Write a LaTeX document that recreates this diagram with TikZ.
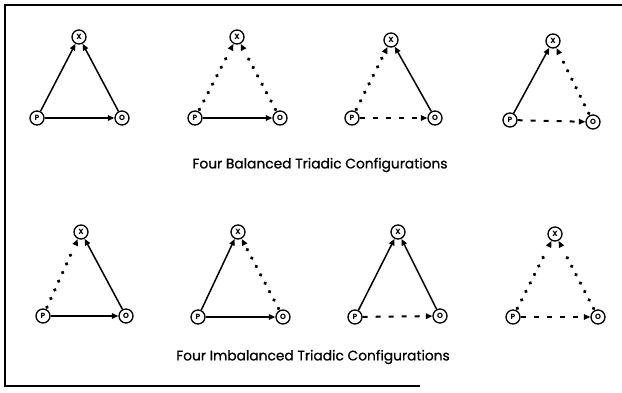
\documentclass[tikz,border=0pt]{standalone}
\usepackage{fontspec}
\setmainfont{Poppins}
\newfontfamily\capfont{Poppins}[FakeBold=0.8]
\usetikzlibrary{arrows.meta,decorations.markings}

\tikzset{
  ent/.style={circle, draw, line width=1.35pt, minimum size=14pt, inner sep=0pt,
    font=\fontsize{7.5}{7.5}\selectfont\bfseries},
  tipshape/.tip={Triangle[length=6.5pt,width=5.5pt]},
  solidlink/.style={-tipshape, line width=1.5pt},
  dotlink/.style={
    decoration={markings,
      mark=between positions 2pt and -10pt step 9.5pt with {\fill (0,0) circle (1.9pt);},
      mark=at position 0.999 with {\arrow[line width=1.5pt]{tipshape}}},
    decorate},
  dashlink/.style={-tipshape, line width=2pt, dash pattern=on 5pt off 8pt},
  caption/.style={font=\capfont\fontsize{13.8}{15}\selectfont},
  frameline/.style={line width=1.3pt}
}

\begin{document}
\begin{tikzpicture}[x=1pt,y=-1pt]
  \useasboundingbox (0,0) rectangle (622,393);

  % open frame: top, left and bottom edges
  \draw[frameline] (622,5) -- (5,5) -- (5,386) -- (420,386);

  % each triad: index / X / P / O / style P->X / style O->X / style P->O
  \foreach \i/\xx/\xy/\px/\py/\ox/\oy/\spx/\sox/\spo in {
      1/79/37/37/118/122/118/solidlink/solidlink/solidlink,
      2/237/37/195/118/280/118/dotlink/dotlink/solidlink,
      3/391/40/352/118/435/118/dotlink/solidlink/dashlink,
      4/553/41/510/120/593/122/solidlink/dotlink/dashlink,
      5/81/232/43/316/126/316/dotlink/solidlink/solidlink,
      6/238/232/198/317/283/317/solidlink/dotlink/solidlink,
      7/398/232/355/317/440/316/solidlink/solidlink/dashlink,
      8/555/234/513/317/598/317/dotlink/dotlink/dashlink} {
    \node[ent] (x\i) at (\xx,\xy) {X};
    \node[ent] (p\i) at (\px,\py) {P};
    \node[ent] (o\i) at (\ox,\oy) {O};
    \draw[\spx] (p\i) -- (x\i);
    \draw[\sox] (o\i) -- (x\i);
    \draw[\spo] (p\i) -- (o\i);
  }

  \node[caption] (bal) at (320,165) {Four Balanced Triadic Configurations};
  \node[caption] (imb) at (313,357) {Four Imbalanced Triadic Configurations};
\end{tikzpicture}
\end{document}
